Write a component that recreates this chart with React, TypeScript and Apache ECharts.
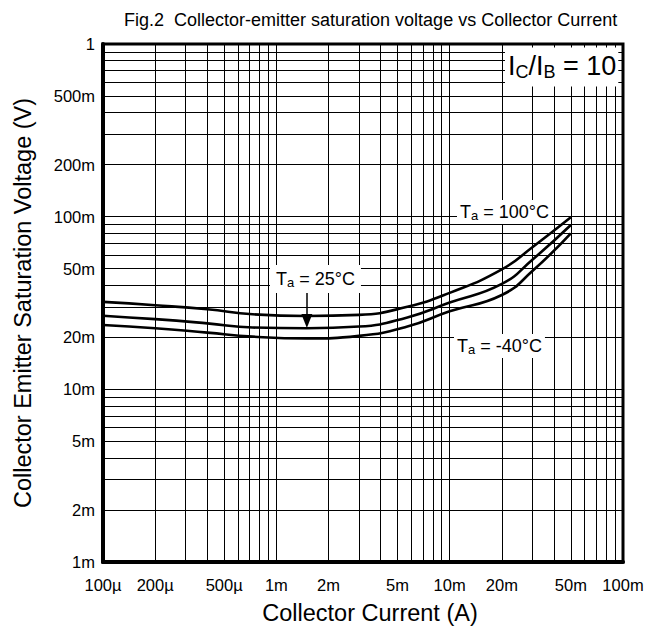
import React, { useEffect, useRef } from "react";
import * as echarts from "echarts";

// Collector current (A) sample points
const currentA = [1e-4, 2e-4, 4e-4, 7.3e-4, 1.5e-3, 3e-3, 5.7e-3, 1e-2, 2e-2, 3e-2, 5e-2];
// Collector-emitter saturation voltage (V)
const vce100 = [0.0321, 0.0307, 0.0291, 0.0272, 0.0266, 0.027, 0.0301, 0.0362, 0.0495, 0.0665, 0.0992];
const vce25 = [0.0267, 0.0255, 0.0241, 0.0228, 0.0226, 0.0231, 0.0261, 0.0318, 0.0408, 0.0563, 0.0895];
const vceMinus40 = [0.0236, 0.0226, 0.0213, 0.0202, 0.0197, 0.0204, 0.0231, 0.0283, 0.0352, 0.0484, 0.0801];

// Tick labels
const xLabelValues = [1e-4, 2e-4, 5e-4, 1e-3, 2e-3, 5e-3, 1e-2, 2e-2, 5e-2, 1e-1];
const xLabelTexts = ["100µ", "200µ", "500µ", "1m", "2m", "5m", "10m", "20m", "50m", "100m"];
const yLabelValues = [1e-3, 2e-3, 5e-3, 1e-2, 2e-2, 5e-2, 0.1, 0.2, 0.5, 1];
const yLabelTexts = ["1m", "2m", "5m", "10m", "20m", "50m", "100m", "200m", "500m", "1"];

// Grid (1..9 per decade)
const gridMantissas = [1, 2, 3, 4, 5, 6, 7, 8, 9];
const xDecades = [1e-4, 1e-3, 1e-2];
const yDecades = [1e-3, 1e-2, 1e-1];
const xMax = 1e-1;
const yMax = 1;

// Arrow annotation for Ta = 25°C
const arrowCurrent = 1.5e-3;
const arrowStartV = 0.037;
const arrowEndV = 0.0249;

const FONT = "'Liberation Sans', Arial, Helvetica, sans-serif";

const lg = (v: number) => Math.log10(v);
const gridVals = (decades: number[], max: number) =>
  decades.flatMap((d) => gridMantissas.map((m) => lg(m * d))).concat([lg(max)]);

const makeFormatter = (vals: number[], texts: string[]) => {
  const logs = vals.map(lg);
  return (v: number) => {
    const i = logs.findIndex((l) => Math.abs(l - v) < 1e-6);
    return i >= 0 ? texts[i] : "";
  };
};

const pairs = (ys: number[]) => currentA.map((x, i) => [x, ys[i]]);

export default function App() {
  const ref = useRef<HTMLDivElement>(null);
  useEffect(() => {
    if (!ref.current) return;
    const chart = echarts.init(ref.current, null, { renderer: "svg" });
    const lineStyle = { color: "#000", width: 2.6 };
    const taRich = {
      m: { fontSize: 18, lineHeight: 20, fontFamily: FONT, color: "#000" },
      s: { fontSize: 13, lineHeight: 12, verticalAlign: "bottom", fontFamily: FONT, color: "#000" },
    };
    const icRich = {
      m: { fontSize: 27, lineHeight: 29, fontFamily: FONT, color: "#000" },
      s: { fontSize: 18, lineHeight: 8, verticalAlign: "bottom", fontFamily: FONT, color: "#000" },
    };
    chart.setOption({
      animation: false,
      backgroundColor: "#fff",
      title: {
        text: "Fig.2  Collector-emitter saturation voltage vs Collector Current",
        left: 119,
        top: 6,
        textStyle: { fontSize: 18, fontWeight: "normal", color: "#000", fontFamily: FONT },
      },
      grid: {
        left: 103,
        right: 38,
        top: 44,
        bottom: 79,
        show: true,
        borderColor: "#000",
        borderWidth: 3,
        backgroundColor: "transparent",
      },
      xAxis: [
        { type: "log", logBase: 10, min: currentA[0], max: xMax, show: false, position: "top" },
        {
          type: "value",
          min: lg(xDecades[0]),
          max: lg(xMax),
          position: "bottom",
          axisLine: { show: true, onZero: false, lineStyle: { color: "#000", width: 4 } },
          axisTick: { show: false, customValues: gridVals(xDecades, xMax) },
          splitLine: { show: true, lineStyle: { color: "#000", width: 1 } },
          axisLabel: {
            customValues: xLabelValues.map(lg),
            formatter: makeFormatter(xLabelValues, xLabelTexts),
            margin: 14,
            fontSize: 16.5,
            color: "#000",
            fontFamily: FONT,
          },
          name: "Collector Current (A)",
          nameLocation: "middle",
          nameGap: 39,
          nameTextStyle: { fontSize: 23.5, color: "#000", fontFamily: FONT, padding: [0, 0, 0, 14] },
        },
      ],
      yAxis: [
        { type: "log", logBase: 10, min: yDecades[0], max: yMax, show: false, position: "right" },
        {
          type: "value",
          min: lg(yDecades[0]),
          max: lg(yMax),
          position: "left",
          axisLine: { show: true, onZero: false, lineStyle: { color: "#000", width: 4 } },
          axisTick: { show: false, customValues: gridVals(yDecades, yMax) },
          splitLine: { show: true, lineStyle: { color: "#000", width: 1 } },
          axisLabel: {
            customValues: yLabelValues.map(lg),
            formatter: makeFormatter(yLabelValues, yLabelTexts),
            margin: 8,
            fontSize: 16.5,
            color: "#000",
            fontFamily: FONT,
          },
          name: "Collector Emitter Saturation Voltage (V)",
          nameLocation: "middle",
          nameGap: 68,
          nameTextStyle: { fontSize: 23.5, color: "#000", fontFamily: FONT },
        },
      ],
      series: [
        {
          name: "Ta = 100°C",
          type: "line",
          xAxisIndex: 0,
          yAxisIndex: 0,
          data: pairs(vce100),
          smooth: 0.5,
          showSymbol: false,
          lineStyle,
          z: 5,
        },
        {
          name: "Ta = 25°C",
          type: "line",
          xAxisIndex: 0,
          yAxisIndex: 0,
          data: pairs(vce25),
          smooth: 0.5,
          showSymbol: false,
          lineStyle,
          z: 5,
          markLine: {
            silent: true,
            symbol: ["none", "triangle"],
            symbolSize: [11, 14],
            label: { show: false },
            lineStyle: { color: "#000", width: 1.5, type: "solid" },
            data: [[{ coord: [arrowCurrent, arrowStartV] }, { coord: [arrowCurrent, arrowEndV] }]],
          },
        },
        {
          name: "Ta = -40°C",
          type: "line",
          xAxisIndex: 0,
          yAxisIndex: 0,
          data: pairs(vceMinus40),
          smooth: 0.5,
          showSymbol: false,
          lineStyle,
          z: 5,
        },
      ],
      graphic: [
        {
          type: "text",
          x: 505,
          y: 67,
          z: 100,
          style: {
            text: "{m|I}{s|C}{m|/I}{s|B}{m| = 10}",
            rich: icRich,
            align: "left",
            verticalAlign: "middle",
            backgroundColor: "#fff",
            padding: [4, 2, 6, 3],
          },
        },
        {
          type: "text",
          x: 457,
          y: 212,
          z: 100,
          style: {
            text: "{m|T}{s|a}{m| = 100°C}",
            rich: taRich,
            align: "left",
            verticalAlign: "middle",
            backgroundColor: "#fff",
            padding: [2, 3, 2, 3],
          },
        },
        {
          type: "text",
          x: 270,
          y: 279,
          z: 100,
          style: {
            text: "{m|T}{s|a}{m| = 25°C}",
            rich: taRich,
            align: "left",
            verticalAlign: "middle",
            backgroundColor: "#fff",
            padding: [4, 6, 4, 6],
          },
        },
        {
          type: "text",
          x: 454,
          y: 346,
          z: 100,
          style: {
            text: "{m|T}{s|a}{m| = -40°C}",
            rich: taRich,
            align: "left",
            verticalAlign: "middle",
            backgroundColor: "#fff",
            padding: [2, 3, 2, 3],
          },
        },
      ],
    });
    return () => chart.dispose();
  }, []);
  return <div ref={ref} style={{ width: 661, height: 641, position: "absolute", left: 0, top: 0 }} />;
}
